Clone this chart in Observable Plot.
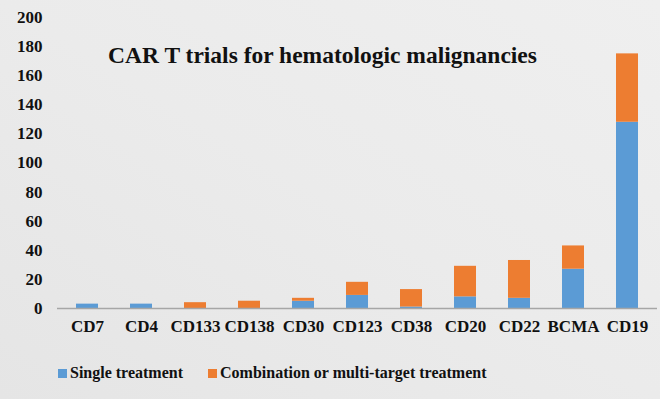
<!DOCTYPE html>
<html>
<head>
<meta charset="utf-8">
<script src="https://cdn.jsdelivr.net/npm/d3@7"></script>
<script src="https://cdn.jsdelivr.net/npm/@observablehq/plot@0.6"></script>
<style>
  html, body { margin: 0; padding: 0; background: #ebebeb; }
  #wrap { width: 660px; height: 399px; background: linear-gradient(to bottom left, #efefef, #ebebeb 50%, #e5e5e5); font-family: "Liberation Serif", "Times New Roman", serif; }
  #wrap svg { display: block; }
  #wrap svg text { font-family: "Liberation Serif", "Times New Roman", serif !important; }
  .legend { display: flex; align-items: center; height: 56px; padding-left: 58px; font-weight: bold; font-size: 16px; color: #111; font-family: "Liberation Serif", "Times New Roman", serif; }
  .legend .item { display: flex; align-items: center; margin-right: 25px; }
  .legend .sw { width: 9px; height: 9px; margin-right: 3px; }
</style>
</head>
<body>
<div id="wrap"></div>
<script>
const categories = ["CD7", "CD4", "CD133", "CD138", "CD30", "CD123", "CD38", "CD20", "CD22", "BCMA", "CD19"];
const singleTreatment = [3, 3, 0, 0, 5, 9, 1, 8, 7, 27, 128];
const combinationTreatment = [0, 0, 4, 5, 2, 9, 12, 21, 26, 16, 47];
const seriesNames = ["Single treatment", "Combination or multi-target treatment"];
const seriesColors = ["#5b9bd5", "#ed7d31"];
const yTicks = [0, 20, 40, 60, 80, 100, 120, 140, 160, 180, 200];
const title = "CAR T trials for hematologic malignancies";

const data = [];
categories.forEach((c, i) => {
  data.push({category: c, series: seriesNames[0], value: singleTreatment[i]});
  data.push({category: c, series: seriesNames[1], value: combinationTreatment[i]});
});

const serif = "'Liberation Serif', 'Times New Roman', serif";
const chart = Plot.plot({
  width: 660,
  height: 345,
  marginTop: 17,
  marginBottom: 37,
  marginLeft: 57,
  marginRight: 3,
  style: {background: "transparent", fontFamily: serif, color: "#111", fontWeight: "bold", overflow: "visible"},
  x: {domain: categories, paddingInner: 0.6, paddingOuter: 0.3, label: null},
  y: {domain: [0, 200], label: null},
  color: {domain: seriesNames, range: seriesColors},
  marks: [
    Plot.axisY({ticks: yTicks, tickSize: 0, tickPadding: 15, fontSize: 17, label: null, fontWeight: "bold", fontFamily: serif}),
    Plot.axisX({tickSize: 0, tickPadding: 11, fontSize: 17, label: null, fontWeight: "bold", fontFamily: serif}),
    Plot.barY(data, {x: "category", y: "value", fill: "series", order: seriesNames}),
    Plot.ruleY([0], {stroke: "#a6a6a6", strokeWidth: 1.5}),
    Plot.text([title], {frameAnchor: "top", dx: -35, dy: 38, fontSize: 23.5, fontWeight: "bold", lineAnchor: "middle", fill: "#111", fontFamily: serif})
  ]
});

const wrap = document.getElementById("wrap");
wrap.appendChild(chart);
const legend = document.createElement("div");
legend.className = "legend";
seriesNames.forEach((name, i) => {
  const item = document.createElement("div");
  item.className = "item";
  const sw = document.createElement("span");
  sw.className = "sw";
  sw.style.background = seriesColors[i];
  item.appendChild(sw);
  item.appendChild(document.createTextNode(name));
  legend.appendChild(item);
});
wrap.appendChild(legend);
</script>
</body>
</html>
